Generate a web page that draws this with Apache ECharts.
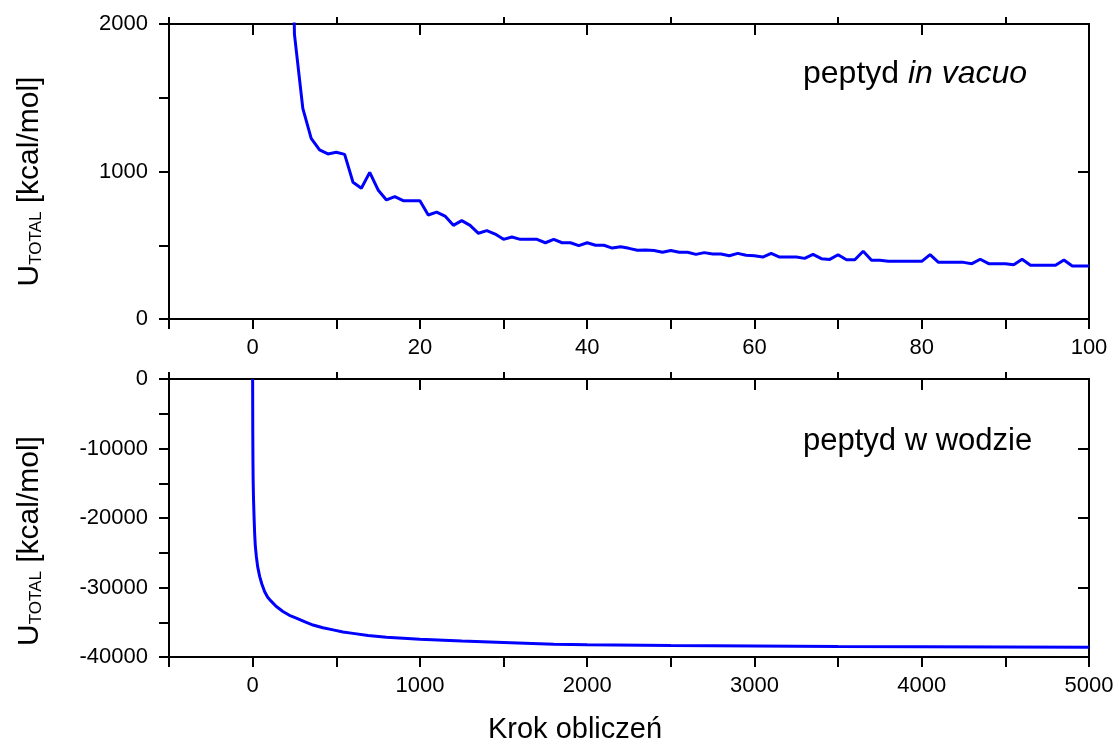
<!DOCTYPE html>
<html lang="pl">
<head>
<meta charset="utf-8" />
<title>U_TOTAL</title>
</head>
<body style="margin:0">
<div id="main" style="width:1119px;height:744px"></div>
<script src="https://cdn.jsdelivr.net/npm/echarts@6/dist/echarts.min.js"></script>
<script>
// peptyd in vacuo: energy at steps 0..100
const vacuoEnergy = [
  52000, 30000, 16000, 9000, 5200, 1930, 1428, 1225, 1146, 1119,
  1130, 1116, 927, 886, 994, 875, 807, 829, 802, 802,
  802, 705, 725, 698, 635, 667, 635, 581, 599, 576,
  540, 556, 540, 540, 540, 517, 540, 517, 517, 497,
  517, 500, 500, 481, 490, 479, 466, 468, 464, 452,
  464, 452, 452, 438, 450, 441, 441, 429, 445, 432,
  429, 420, 445, 420, 420, 420, 411, 438, 409, 404,
  436, 402, 402, 459, 398, 398, 391, 391, 391, 391,
  391, 436, 384, 384, 384, 384, 375, 405, 375, 375,
  375, 368, 405, 364, 364, 364, 364, 400, 359, 359,
  359
];

// peptyd w wodzie
const waterStep = [0, 1, 2, 3, 5, 8, 12, 16, 22, 30, 42, 55, 72, 90, 112, 140, 181, 220, 261, 310,
  361, 420, 481, 540, 600, 690, 800, 1000, 1250, 1500, 1800, 2000, 2500, 3000, 3500, 4000, 4500, 5000];
const waterEnergy = [0, -8000, -12000, -14500, -17000, -19500, -22200, -24000, -25500, -27000,
  -28400, -29500, -30600, -31400, -32000, -32700, -33450, -34000, -34400, -34900,
  -35400, -35800, -36100, -36400, -36600, -36900, -37150, -37450, -37700, -37900,
  -38150, -38250, -38350, -38420, -38480, -38520, -38560, -38600];

const vacuoXTicks = [-10, 0, 10, 20, 30, 40, 50, 60, 70, 80, 90, 100];
const vacuoXLabels = [0, 20, 40, 60, 80, 100];
const vacuoTopOut = [-10, 10, 30, 50, 70, 90];
const vacuoTopIn = [0, 20, 40, 60, 80, 100];
const vacuoYTicks = [0, 500, 1000, 1500, 2000];
const vacuoYLabels = [0, 1000, 2000];
const vacuoYRight = [1000];

const waterXTicks = [-500, 0, 500, 1000, 1500, 2000, 2500, 3000, 3500, 4000, 4500, 5000];
const waterXLabels = [0, 1000, 2000, 3000, 4000, 5000];
const waterTopOut = [-500, 500, 1500, 2500, 3500, 4500];
const waterTopIn = [0, 1000, 2000, 3000, 4000, 5000];
const waterYTicks = [-40000, -35000, -30000, -25000, -20000, -15000, -10000, -5000, 0];
const waterYLabels = [-40000, -30000, -20000, -10000, 0];
const waterYRight = [-30000, -20000, -10000];

const font = 'Liberation Sans';
const axisLine = { show: true, onZero: false, lineStyle: { color: '#000', width: 2 } };
const tickStyle = { color: '#000', width: 2 };

function xAx(grid, min, max, position, ticks, inside, len, labels) {
  return {
    type: 'value', gridIndex: grid, min, max, position,
    axisLine,
    splitLine: { show: false },
    axisTick: { show: true, inside, length: len, customValues: ticks, lineStyle: tickStyle },
    axisLabel: labels
      ? { show: true, customValues: labels, margin: 18, fontSize: 22, fontFamily: font, color: '#000', formatter: v => String(v) }
      : { show: false }
  };
}

function yAx(grid, min, max, position, ticks, inside, len, labels, extra) {
  return Object.assign({
    type: 'value', gridIndex: grid, min, max, position,
    axisLine,
    splitLine: { show: false },
    axisTick: { show: true, inside, length: len, customValues: ticks, lineStyle: tickStyle },
    axisLabel: labels
      ? { show: true, customValues: labels, margin: 21, fontSize: 22, fontFamily: font, color: '#000', formatter: v => String(v) }
      : { show: false }
  }, extra || {});
}

const yName = {
  name: '{u|U}{s|TOTAL}{u| [kcal/mol]}',
  nameLocation: 'middle',
  nameRotate: 90,
  nameGap: 124
};
const yRich = {
  u: { fontSize: 30, fontFamily: font, color: '#000' },
  s: { fontSize: 17, fontFamily: font, color: '#000', verticalAlign: 'bottom' }
};

const chart = echarts.init(document.getElementById('main'));
chart.setOption({
  animation: false,
  backgroundColor: '#fff',
  grid: [
    { left: 169, top: 24, width: 920, height: 295, outerBoundsMode: 'none' },
    { left: 169, top: 379, width: 920, height: 278, outerBoundsMode: 'none' }
  ],
  xAxis: [
    xAx(0, -10, 100, 'bottom', vacuoXTicks, false, 10, vacuoXLabels),
    xAx(0, -10, 100, 'top', vacuoTopOut, false, 7, null),
    xAx(0, -10, 100, 'top', vacuoTopIn, true, 11, null),
    Object.assign(xAx(1, -500, 5000, 'bottom', waterXTicks, false, 10, waterXLabels), {
      name: 'Krok obliczeń',
      nameLocation: 'middle',
      nameGap: 58,
      nameTextStyle: { fontSize: 29, fontFamily: font, color: '#000', padding: [0, 108, 0, 0] }
    }),
    xAx(1, -500, 5000, 'top', waterTopOut, false, 7, null),
    xAx(1, -500, 5000, 'top', waterTopIn, true, 11, null)
  ],
  yAxis: [
    yAx(0, 0, 2000, 'left', vacuoYTicks, false, 10, vacuoYLabels,
      Object.assign({}, yName, { nameTextStyle: { rich: yRich, padding: [0, 20, 0, 0] } })),
    yAx(0, 0, 2000, 'right', vacuoYRight, true, 11, null),
    yAx(1, -40000, 0, 'left', waterYTicks, false, 10, waterYLabels,
      Object.assign({}, yName, { nameTextStyle: { rich: yRich, padding: [0, 46, 0, 0] } })),
    yAx(1, -40000, 0, 'right', waterYRight, true, 11, null)
  ],
  graphic: [
    {
      type: 'text', left: 803, top: 58,
      style: {
        text: '{n|peptyd }{i|in vacuo}',
        fill: '#000',
        rich: {
          n: { fontSize: 32, fontFamily: font, fill: '#000' },
          i: { fontSize: 32, fontFamily: font, fontStyle: 'italic', fill: '#000' }
        }
      }
    },
    {
      type: 'text', left: 803, top: 426,
      style: { text: 'peptyd w wodzie', fill: '#000', fontSize: 31, fontFamily: font }
    }
  ],
  series: [
    {
      type: 'line', xAxisIndex: 0, yAxisIndex: 0,
      data: vacuoEnergy.map((v, i) => [i, v]),
      showSymbol: false, clip: true,
      lineStyle: { color: '#0000ff', width: 3 }
    },
    {
      type: 'line', xAxisIndex: 3, yAxisIndex: 2,
      data: waterStep.map((s, i) => [s, waterEnergy[i]]),
      showSymbol: false, clip: true,
      lineStyle: { color: '#0000ff', width: 3 }
    }
  ]
});
</script>
</body>
</html>
